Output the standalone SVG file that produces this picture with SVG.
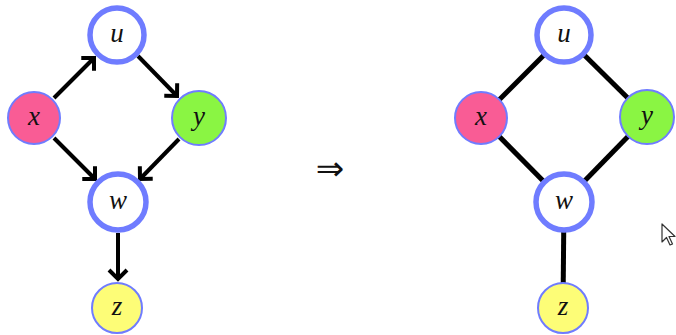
<svg xmlns="http://www.w3.org/2000/svg" width="676" height="335" viewBox="0 0 676 335">
<style>
.lbl{font-family:"Liberation Serif","DejaVu Serif",serif;font-style:italic;font-size:27px;fill:#111;text-anchor:middle;dominant-baseline:central}
.hol{fill:#fff;stroke:#6f7cff;stroke-width:5.5}
.thin{stroke:#6f7cff;stroke-width:2}
.e{stroke:#000;stroke-width:4;fill:none;stroke-linecap:butt}
.ue{stroke:#000;stroke-width:5;fill:none}
</style>
<defs>
<marker id="ah" markerUnits="userSpaceOnUse" markerWidth="24" markerHeight="24" viewBox="-14 -12 18 24" refX="0" refY="0" orient="auto">
<path d="M-9,-9 L0,0 L-9,9" fill="none" stroke="#000" stroke-width="4" stroke-linejoin="miter"/>
</marker>
</defs>
<g id="connectors">
<line class="e" x1="54" y1="98" x2="94" y2="58" marker-end="url(#ah)"/>
<line class="e" x1="138" y1="56" x2="177" y2="96" marker-end="url(#ah)"/>
<line class="e" x1="54" y1="138" x2="95" y2="179" marker-end="url(#ah)"/>
<line class="e" x1="179" y1="139" x2="140" y2="179" marker-end="url(#ah)"/>
<line class="e" x1="118" y1="233" x2="118" y2="279" marker-end="url(#ah)"/>
<line class="ue" x1="564" y1="35" x2="481" y2="118"/>
<line class="ue" x1="564" y1="35" x2="647" y2="117"/>
<line class="ue" x1="481" y1="118" x2="564" y2="202"/>
<line class="ue" x1="647" y1="117" x2="564" y2="202"/>
<line class="ue" x1="564" y1="202" x2="563" y2="308"/>
</g>
<g id="u1"><circle class="hol" cx="117" cy="35" r="27"/><text class="lbl" x="117" y="33">u</text></g>
<g id="x1"><circle class="thin" cx="34" cy="118" r="26" fill="#f95c95"/><text class="lbl" x="34" y="116">x</text></g>
<g id="y1"><circle class="thin" cx="199" cy="118" r="27" fill="#8af543"/><text class="lbl" x="199" y="116">y</text></g>
<g id="w1"><circle class="hol" cx="118" cy="202" r="28"/><text class="lbl" x="118" y="200">w</text></g>
<g id="z1"><circle class="thin" cx="117" cy="308" r="25" fill="#fdfd77"/><text class="lbl" x="117" y="306">z</text></g>
<g id="implies"><text x="330" y="168" font-family="DejaVu Sans,sans-serif" font-size="34" text-anchor="middle" dominant-baseline="central" fill="#111">⇒</text></g>
<g id="u2"><circle class="hol" cx="564" cy="35" r="27"/><text class="lbl" x="564" y="33">u</text></g>
<g id="x2"><circle class="thin" cx="481" cy="118" r="26" fill="#f95c95"/><text class="lbl" x="481" y="116">x</text></g>
<g id="y2"><circle class="thin" cx="647" cy="117" r="27" fill="#8af543"/><text class="lbl" x="647" y="115">y</text></g>
<g id="w2"><circle class="hol" cx="564" cy="202" r="28"/><text class="lbl" x="564" y="200">w</text></g>
<g id="z2"><circle class="thin" cx="563" cy="308" r="25" fill="#fdfd77"/><text class="lbl" x="563" y="306">z</text></g>
<path d="M662,224 L662,242 L666.5,237.5 L670,245 L672.5,244 L669,236.5 L675,236.5 Z" fill="#fff" stroke="#333" stroke-width="1.2" stroke-linejoin="round"/>
</svg>
